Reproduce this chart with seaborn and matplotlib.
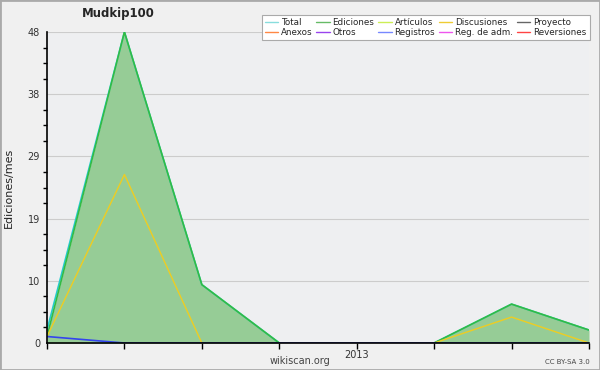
import matplotlib
matplotlib.use("Agg")
import matplotlib.pyplot as plt
import seaborn as sns
import pandas as pd
import numpy as np
from matplotlib.patches import Rectangle
from matplotlib.lines import Line2D

months = list(range(8))
x_labels = ["", "", "", "", "2013", "", "", ""]
total = [2, 48, 9, 0, 0, 0, 6, 2]
ediciones = [1, 48, 9, 0, 0, 0, 6, 2]
discusiones = [1, 26, 0, 0, 0, 0, 4, 0]
registros = [1, 0, 0, 0, 0, 0, 0, 0]
y_ticks = [0, 9.6, 19.2, 28.8, 38.4, 48]
y_labels = ["0", "10", "19", "29", "38", "48"]

legend_names = ["Total", "Ediciones", "Artículos", "Discusiones", "Proyecto",
                "Anexos", "Otros", "Registros", "Reg. de adm.", "Reversiones"]
legend_colors = ["#88dddd", "#66bb66", "#ccee55", "#eecc33", "#666666",
                 "#ff8844", "#9944ee", "#7788ff", "#ee55ee", "#ff4444"]

sns.set_style("white")
plt.rcParams['font.family'] = ['DejaVu Sans']

fig = plt.figure(figsize=(6, 3.7), dpi=100, facecolor="#f0f0f0")
ax = fig.add_axes([47/600, 27/370, 542/600, 311/370])
ax.set_facecolor("#eeeff1")

df = pd.DataFrame({"x": months, "Total": total, "Ediciones": ediciones,
                   "Discusiones": discusiones, "Registros": registros})

ax.fill_between(df["x"], 0, df["Ediciones"], color="#96cc96", lw=0, zorder=1)
sns.lineplot(data=df, x="x", y="Total", color="#22cccc", lw=1.2, ax=ax, zorder=2)
sns.lineplot(data=df, x="x", y="Ediciones", color="#33bb44", lw=1.2, ax=ax, zorder=3)
sns.lineplot(data=df, x="x", y="Discusiones", color="#eecc22", lw=1.0, ax=ax, zorder=4)
sns.lineplot(data=df, x="x", y="Registros", color="#3344ee", lw=1.2, ax=ax, zorder=5)

ax.set_xlim(0, 7)
ax.set_ylim(0, 48)
ax.set_xticks(months)
ax.set_xticklabels(x_labels, fontsize=7, color="#333333")
ax.set_yticks(y_ticks)
ax.set_yticklabels(y_labels, fontsize=7, color="#333333")
ax.set_yticks(np.arange(0, 48.01, 2.4), minor=True)
ax.tick_params(axis="both", which="major", length=4, width=1, color="black", direction="out", pad=1)
ax.tick_params(axis="y", which="minor", length=3, width=1, color="black", direction="out", left=True)
ax.tick_params(axis="x", which="major", bottom=True)
ax.yaxis.grid(True, which="major", color="#cccccc", lw=0.8)
ax.set_axisbelow(True)
for s in ["top", "right"]:
    ax.spines[s].set_visible(False)
for s in ["left", "bottom"]:
    ax.spines[s].set_color("black")
    ax.spines[s].set_linewidth(1.2)
    ax.spines[s].set_zorder(10)
ax.set_xlabel("")
ax.set_ylabel("Ediciones/mes", fontsize=8, color="#222222", labelpad=6)
ax.yaxis.set_label_coords(-0.062, 0.5)

fig.text(82/600, 1 - 14/370, "Mudkip100", fontsize=8.5, fontweight="bold", va="center", ha="left")
fig.text(300/600, 1 - 361/370, "wikiscan.org", fontsize=7, color="#444444", ha="center", va="center")
fig.text(590/600, 1 - 362/370, "CC BY-SA 3.0", fontsize=5, color="#444444", ha="right", va="center")

handles = [Line2D([0], [0], color=c, lw=1) for c in legend_colors]
order = [0, 5, 1, 6, 2, 7, 3, 8, 4, 9]
leg = fig.legend([handles[i] for i in order], [legend_names[i] for i in order],
                 ncol=5, loc="upper right", bbox_to_anchor=(594/600, 1 - 11/370),
                 fontsize=6.3, frameon=True, fancybox=False, framealpha=1,
                 edgecolor="#aaaaaa", handlelength=1.5, handletextpad=0.35,
                 columnspacing=0.45, labelspacing=0.05, borderpad=0.35)
leg.get_frame().set_linewidth(0.8)

fig.patches.append(Rectangle((0, 0), 1, 1, transform=fig.transFigure, fill=False,
                             edgecolor="#aaaaaa", lw=2))
fig.savefig("out.png", dpi=100, facecolor=fig.get_facecolor())
